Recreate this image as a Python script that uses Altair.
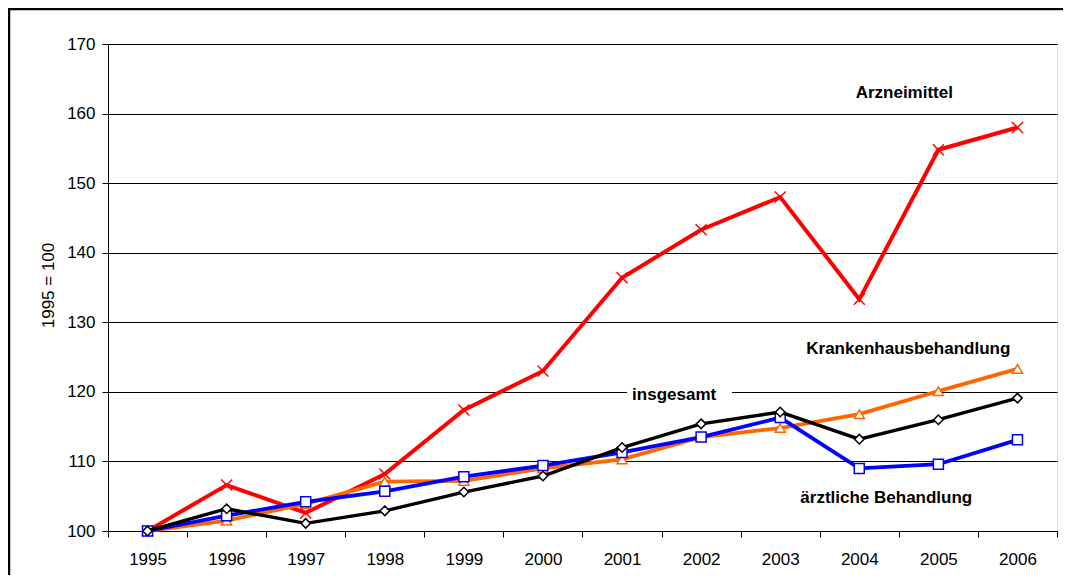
import altair as alt
import pandas as pd

years = ["1995", "1996", "1997", "1998", "1999", "2000", "2001", "2002", "2003", "2004", "2005", "2006"]
arzneimittel = [100, 106.6, 102.6, 108.2, 117.4, 123.0, 136.4, 143.3, 148.0, 133.3, 154.8, 158.0]
krankenhaus = [100, 101.5, 103.9, 107.1, 107.2, 109.0, 110.3, 113.5, 114.8, 116.8, 120.1, 123.3]
insgesamt = [100, 103.2, 101.1, 102.9, 105.6, 107.9, 112.0, 115.4, 117.1, 113.2, 116.0, 119.1]
aerztlich = [100, 102.2, 104.2, 105.7, 107.8, 109.4, 111.3, 113.5, 116.3, 109.0, 109.6, 113.1]

label_texts = ["Arzneimittel", "Krankenhausbehandlung", "insgesamt", "ärztliche Behandlung"]
label_years = ["2004", "2004", "2002", "2004"]
label_values = [163.0, 126.2, 119.55, 104.74]
label_dx = [45, 49, -27, 27]

FONT = "Liberation Sans"

xscale = alt.Scale(type="band", domain=years, paddingInner=0, paddingOuter=0)
yscale = alt.Scale(domain=[100, 170], nice=False, zero=False)

x_enc = alt.X(
    "year:O", scale=xscale, bandPosition=0.5,
    axis=alt.Axis(title=None, labelAngle=0, tickBand="extent", tickSize=6,
                  labelPadding=14, labelFontSize=17, grid=False,
                  domainColor="black", tickColor="black", labelColor="black"),
)
y_enc = alt.Y(
    "value:Q", scale=yscale,
    axis=alt.Axis(title="1995 = 100", values=list(range(100, 171, 10)), tickSize=6,
                  labelPadding=7, labelFontSize=17, grid=True,
                  gridColor="#000000", gridOpacity=1, gridWidth=1,
                  domainColor="black", tickColor="black", labelColor="black",
                  titleX=-60, titleY=241, titleAngle=270, titleAlign="center",
                  titleBaseline="middle", titleFontSize=17, titleFontWeight="normal",
                  titleColor="black"),
)

xpath = "M-1,-1L1,1M-1,1L1,-1"
series = [
    (arzneimittel, "#FF0000", xpath, 121, 4.0),
    (krankenhaus, "#FF6600", "triangle-up", 100, 3.8),
    (aerztlich, "#0000FF", "square", 100, 3.8),
    (insgesamt, "#000000", "diamond", 90, 3.4),
]

layers = []

one = alt.Data(values=[{}])
frame_top = alt.Chart(one).mark_rule(color="black", strokeWidth=2.5).encode(
    x=alt.value(-99), x2=alt.value(1000), y=alt.value(-35)
)
frame_left = alt.Chart(one).mark_rule(color="black", strokeWidth=2.5).encode(
    x=alt.value(-99), y=alt.value(-36), y2=alt.value(600)
)
layers += [frame_top, frame_left]

box = alt.Chart(one).mark_rect(fill="white").encode(
    x=alt.value(519), x2=alt.value(624), y=alt.value(342), y2=alt.value(361)
)
layers.append(box)

for vals, color, shape, size, lw in series:
    df = pd.DataFrame({"year": years, "value": vals})
    base = alt.Chart(df)
    line = base.mark_line(color=color, strokeWidth=lw).encode(x=x_enc, y=y_enc)
    if shape == xpath:
        pts = base.mark_point(shape=shape, size=size, color=color, filled=False,
                              strokeWidth=1.5, opacity=1).encode(x=x_enc, y=y_enc)
    else:
        pts = base.mark_point(shape=shape, size=size, stroke=color, fill="white",
                              filled=True, strokeWidth=1.5, opacity=1).encode(x=x_enc, y=y_enc)
    layers += [line, pts]

for t, yr, v, dx in zip(label_texts, label_years, label_values, label_dx):
    df = pd.DataFrame({"year": [yr], "value": [v], "label": [t]})
    txt = alt.Chart(df).mark_text(
        font=FONT, fontSize=17, fontWeight="bold", color="black",
        align="center", baseline="middle", dx=dx
    ).encode(x=x_enc, y=y_enc, text="label:N")
    layers.append(txt)

chart = alt.layer(*layers).properties(
    width=949, height=487,
    autosize=alt.AutoSizeParams(type="none"),
    padding={"left": 100, "top": 36, "right": 6, "bottom": 44},
).configure_view(
    stroke="#808080", strokeWidth=1
).configure_axis(
    labelFont=FONT, titleFont=FONT, labelColor="black", titleColor="black",
    domainColor="black", tickColor="black", gridColor="black", gridWidth=1,
    gridOpacity=1, domainWidth=1, tickWidth=1,
).configure(background="transparent")

chart.save("out.html", embed_options={"renderer": "svg", "actions": False})
